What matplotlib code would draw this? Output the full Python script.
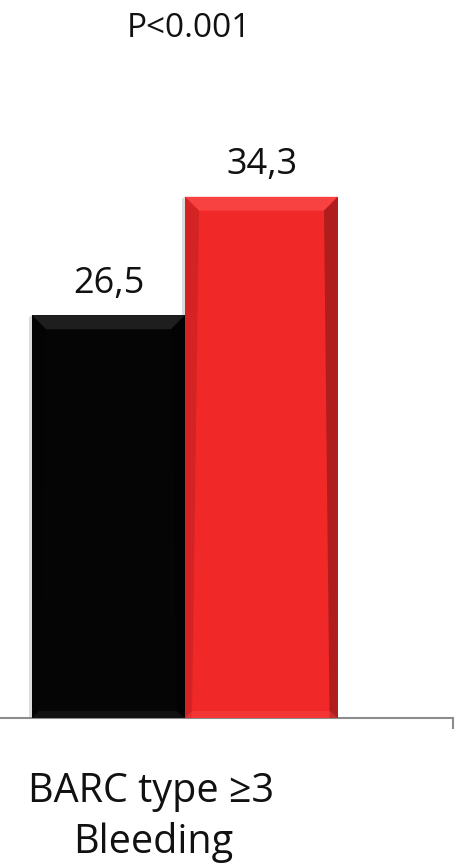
import matplotlib
matplotlib.use("Agg")
import matplotlib.pyplot as plt
from matplotlib.patches import Polygon
import numpy as np

plt.rcParams['font.family'] = ['Open Sans', 'DejaVu Sans']

categories = ["BARC type ≥3\nBleeding"]
series_names = ["Group A", "Group B"]
values = [26.5, 34.3]
value_labels = ["26,5", "34,3"]
colors = ["#050505", "#f02828"]
p_text = "P<0.001"

W, H, DPI = 461, 866, 100
fig = plt.figure(figsize=(W / DPI, H / DPI), dpi=DPI)

# axes geometry in pixels
ax_left, ax_right = 0, 453
ax_bottom = 718
ax_top = 60
ax = fig.add_axes([ax_left / W, (H - ax_bottom) / H, (ax_right - ax_left) / W, (ax_bottom - ax_top) / H])

px_per_unit_y = 15.2
ax.set_ylim(0, (ax_bottom - ax_top) / px_per_unit_y)
px_per_unit_x = 510.0
center_px = 185
ax.set_xlim(-(center_px - ax_left) / px_per_unit_x, (ax_right - center_px) / px_per_unit_x)

bw = 0.3
xs = [-bw / 2, bw / 2]
bars = ax.bar(xs, values, width=bw, color=colors, edgecolor='none', zorder=3)

# bevel effect
bev_x = 14 / px_per_unit_x
bev_y = 14 / px_per_unit_y
for rect, c in zip(bars, colors):
    x0 = rect.get_x(); x1 = x0 + rect.get_width(); h = rect.get_height()
    base = np.array(matplotlib.colors.to_rgb(c))
    light = np.clip(base + 0.18, 0, 1)
    dark = base * 0.55
    # soft shadow at left
    ax.add_patch(Polygon([[x0 - 3 / px_per_unit_x, h - 2 / px_per_unit_y], [x0, h], [x0, 0],
                          [x0 - 3 / px_per_unit_x, 0]],
                         closed=True, facecolor='#bbbbbb', edgecolor='none', alpha=0.5, zorder=2))
    # top highlight
    ax.add_patch(Polygon([[x0, h], [x1, h], [x1 - bev_x, h - bev_y], [x0 + bev_x, h - bev_y]],
                         closed=True, facecolor=light, edgecolor='none', alpha=0.55, zorder=4))
    # right dark edge
    ax.add_patch(Polygon([[x1, h], [x1, 0], [x1 - bev_x * 0.6, 0], [x1 - bev_x, h - bev_y]],
                         closed=True, facecolor=dark, edgecolor='none', alpha=0.6, zorder=4))
    # left slight edge
    ax.add_patch(Polygon([[x0, h], [x0, 0], [x0 + bev_x * 0.5, 0], [x0 + bev_x, h - bev_y]],
                         closed=True, facecolor=dark, edgecolor='none', alpha=0.25, zorder=4))
    # bottom edge
    ax.add_patch(Polygon([[x0, 0], [x1, 0], [x1 - bev_x * 0.6, bev_y * 0.5], [x0 + bev_x * 0.5, bev_y * 0.5]],
                         closed=True, facecolor=light, edgecolor='none', alpha=0.3, zorder=4))

for rect, lab in zip(bars, value_labels):
    ax.annotate(lab, (rect.get_x() + rect.get_width() / 2, rect.get_height()),
                xytext=(0, 16), textcoords='offset points', ha='center', va='baseline',
                fontsize=26, color='#111111', zorder=5)

for s in ['top', 'left', 'right']:
    ax.spines[s].set_visible(False)
ax.spines['bottom'].set_color('#8c8c8c')
ax.spines['bottom'].set_linewidth(1.5)
ax.set_yticks([])
ax.set_xticks([ax.get_xlim()[1]])
ax.set_xticklabels([])
ax.tick_params(axis='x', length=8, width=1.5, color='#8c8c8c', direction='out')
ax.patch.set_alpha(0)

# category label (two lines)
cat_lines = categories[0].split("\n")
fig.text(151 / W, 1 - 802 / H, cat_lines[0], ha='center', va='baseline', fontsize=28.5, color='#111111')
fig.text(153 / W, 1 - 853 / H, cat_lines[1], ha='center', va='baseline', fontsize=28.5, color='#111111')

fig.text(189 / W, 1 - 37 / H, p_text, ha='center', va='baseline', fontsize=24, color='#111111')

fig.savefig("out.png", dpi=DPI)
